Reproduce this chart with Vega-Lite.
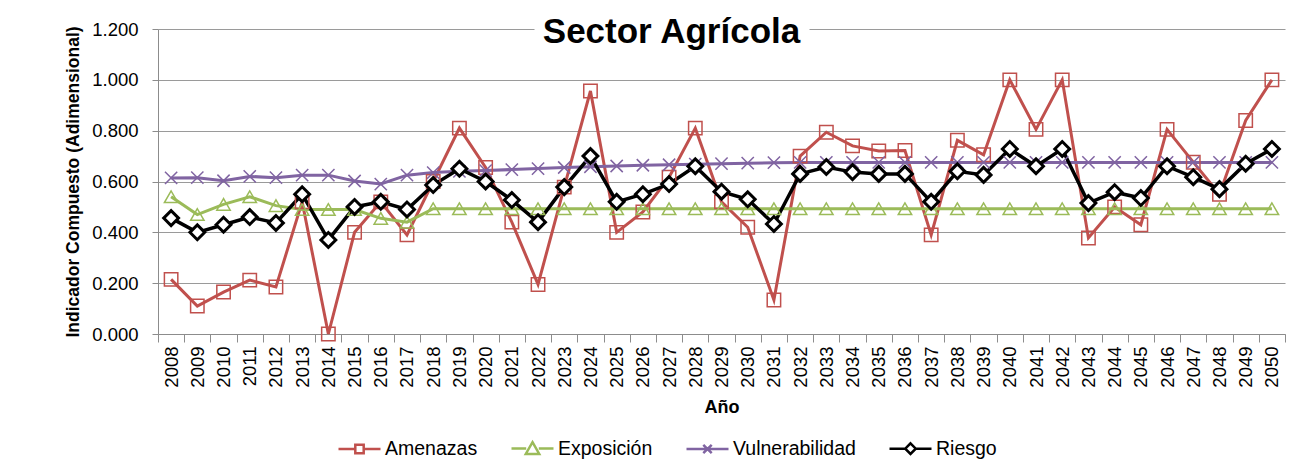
{
  "$schema": "https://vega.github.io/schema/vega-lite/v6.json",
  "width": 1127,
  "height": 305,
  "padding": {"left": 64, "top": 15, "right": 10, "bottom": 10},
  "background": "white",
  "title": {
    "text": "Sector Agrícola",
    "font": "Liberation Sans",
    "fontSize": 35,
    "fontWeight": "bold",
    "color": "black",
    "anchor": "middle",
    "frame": "group",
    "offset": -45,
    "baseline": "alphabetic",
    "dy": 13,
    "dx": -50
  },
  "data": {
    "values": [
      {"anio": 2008, "serie": "Amenazas", "valor": 0.215},
      {"anio": 2009, "serie": "Amenazas", "valor": 0.11},
      {"anio": 2010, "serie": "Amenazas", "valor": 0.165},
      {"anio": 2011, "serie": "Amenazas", "valor": 0.212},
      {"anio": 2012, "serie": "Amenazas", "valor": 0.185},
      {"anio": 2013, "serie": "Amenazas", "valor": 0.52},
      {"anio": 2014, "serie": "Amenazas", "valor": 0.0},
      {"anio": 2015, "serie": "Amenazas", "valor": 0.4},
      {"anio": 2016, "serie": "Amenazas", "valor": 0.52},
      {"anio": 2017, "serie": "Amenazas", "valor": 0.39},
      {"anio": 2018, "serie": "Amenazas", "valor": 0.6},
      {"anio": 2019, "serie": "Amenazas", "valor": 0.81},
      {"anio": 2020, "serie": "Amenazas", "valor": 0.655},
      {"anio": 2021, "serie": "Amenazas", "valor": 0.44},
      {"anio": 2022, "serie": "Amenazas", "valor": 0.195},
      {"anio": 2023, "serie": "Amenazas", "valor": 0.578},
      {"anio": 2024, "serie": "Amenazas", "valor": 0.956},
      {"anio": 2025, "serie": "Amenazas", "valor": 0.4},
      {"anio": 2026, "serie": "Amenazas", "valor": 0.48},
      {"anio": 2027, "serie": "Amenazas", "valor": 0.617},
      {"anio": 2028, "serie": "Amenazas", "valor": 0.81},
      {"anio": 2029, "serie": "Amenazas", "valor": 0.52},
      {"anio": 2030, "serie": "Amenazas", "valor": 0.42},
      {"anio": 2031, "serie": "Amenazas", "valor": 0.134},
      {"anio": 2032, "serie": "Amenazas", "valor": 0.7},
      {"anio": 2033, "serie": "Amenazas", "valor": 0.794},
      {"anio": 2034, "serie": "Amenazas", "valor": 0.74},
      {"anio": 2035, "serie": "Amenazas", "valor": 0.72},
      {"anio": 2036, "serie": "Amenazas", "valor": 0.722},
      {"anio": 2037, "serie": "Amenazas", "valor": 0.39},
      {"anio": 2038, "serie": "Amenazas", "valor": 0.762},
      {"anio": 2039, "serie": "Amenazas", "valor": 0.705},
      {"anio": 2040, "serie": "Amenazas", "valor": 1.0},
      {"anio": 2041, "serie": "Amenazas", "valor": 0.805},
      {"anio": 2042, "serie": "Amenazas", "valor": 1.0},
      {"anio": 2043, "serie": "Amenazas", "valor": 0.378},
      {"anio": 2044, "serie": "Amenazas", "valor": 0.5},
      {"anio": 2045, "serie": "Amenazas", "valor": 0.43},
      {"anio": 2046, "serie": "Amenazas", "valor": 0.805},
      {"anio": 2047, "serie": "Amenazas", "valor": 0.676},
      {"anio": 2048, "serie": "Amenazas", "valor": 0.55},
      {"anio": 2049, "serie": "Amenazas", "valor": 0.84},
      {"anio": 2050, "serie": "Amenazas", "valor": 1.0},
      {"anio": 2008, "serie": "Exposición", "valor": 0.54},
      {"anio": 2009, "serie": "Exposición", "valor": 0.47},
      {"anio": 2010, "serie": "Exposición", "valor": 0.51},
      {"anio": 2011, "serie": "Exposición", "valor": 0.54},
      {"anio": 2012, "serie": "Exposición", "valor": 0.505},
      {"anio": 2013, "serie": "Exposición", "valor": 0.49},
      {"anio": 2014, "serie": "Exposición", "valor": 0.49},
      {"anio": 2015, "serie": "Exposición", "valor": 0.49},
      {"anio": 2016, "serie": "Exposición", "valor": 0.455},
      {"anio": 2017, "serie": "Exposición", "valor": 0.44},
      {"anio": 2018, "serie": "Exposición", "valor": 0.493},
      {"anio": 2019, "serie": "Exposición", "valor": 0.493},
      {"anio": 2020, "serie": "Exposición", "valor": 0.493},
      {"anio": 2021, "serie": "Exposición", "valor": 0.493},
      {"anio": 2022, "serie": "Exposición", "valor": 0.493},
      {"anio": 2023, "serie": "Exposición", "valor": 0.493},
      {"anio": 2024, "serie": "Exposición", "valor": 0.493},
      {"anio": 2025, "serie": "Exposición", "valor": 0.493},
      {"anio": 2026, "serie": "Exposición", "valor": 0.493},
      {"anio": 2027, "serie": "Exposición", "valor": 0.493},
      {"anio": 2028, "serie": "Exposición", "valor": 0.493},
      {"anio": 2029, "serie": "Exposición", "valor": 0.493},
      {"anio": 2030, "serie": "Exposición", "valor": 0.493},
      {"anio": 2031, "serie": "Exposición", "valor": 0.493},
      {"anio": 2032, "serie": "Exposición", "valor": 0.493},
      {"anio": 2033, "serie": "Exposición", "valor": 0.493},
      {"anio": 2034, "serie": "Exposición", "valor": 0.493},
      {"anio": 2035, "serie": "Exposición", "valor": 0.493},
      {"anio": 2036, "serie": "Exposición", "valor": 0.493},
      {"anio": 2037, "serie": "Exposición", "valor": 0.493},
      {"anio": 2038, "serie": "Exposición", "valor": 0.493},
      {"anio": 2039, "serie": "Exposición", "valor": 0.493},
      {"anio": 2040, "serie": "Exposición", "valor": 0.493},
      {"anio": 2041, "serie": "Exposición", "valor": 0.493},
      {"anio": 2042, "serie": "Exposición", "valor": 0.493},
      {"anio": 2043, "serie": "Exposición", "valor": 0.493},
      {"anio": 2044, "serie": "Exposición", "valor": 0.493},
      {"anio": 2045, "serie": "Exposición", "valor": 0.493},
      {"anio": 2046, "serie": "Exposición", "valor": 0.493},
      {"anio": 2047, "serie": "Exposición", "valor": 0.493},
      {"anio": 2048, "serie": "Exposición", "valor": 0.493},
      {"anio": 2049, "serie": "Exposición", "valor": 0.493},
      {"anio": 2050, "serie": "Exposición", "valor": 0.493},
      {"anio": 2008, "serie": "Vulnerabilidad", "valor": 0.614},
      {"anio": 2009, "serie": "Vulnerabilidad", "valor": 0.615},
      {"anio": 2010, "serie": "Vulnerabilidad", "valor": 0.603},
      {"anio": 2011, "serie": "Vulnerabilidad", "valor": 0.62},
      {"anio": 2012, "serie": "Vulnerabilidad", "valor": 0.615},
      {"anio": 2013, "serie": "Vulnerabilidad", "valor": 0.625},
      {"anio": 2014, "serie": "Vulnerabilidad", "valor": 0.625},
      {"anio": 2015, "serie": "Vulnerabilidad", "valor": 0.602},
      {"anio": 2016, "serie": "Vulnerabilidad", "valor": 0.59},
      {"anio": 2017, "serie": "Vulnerabilidad", "valor": 0.625},
      {"anio": 2018, "serie": "Vulnerabilidad", "valor": 0.635},
      {"anio": 2019, "serie": "Vulnerabilidad", "valor": 0.64},
      {"anio": 2020, "serie": "Vulnerabilidad", "valor": 0.643},
      {"anio": 2021, "serie": "Vulnerabilidad", "valor": 0.647},
      {"anio": 2022, "serie": "Vulnerabilidad", "valor": 0.651},
      {"anio": 2023, "serie": "Vulnerabilidad", "valor": 0.655},
      {"anio": 2024, "serie": "Vulnerabilidad", "valor": 0.658},
      {"anio": 2025, "serie": "Vulnerabilidad", "valor": 0.661},
      {"anio": 2026, "serie": "Vulnerabilidad", "valor": 0.664},
      {"anio": 2027, "serie": "Vulnerabilidad", "valor": 0.666},
      {"anio": 2028, "serie": "Vulnerabilidad", "valor": 0.668},
      {"anio": 2029, "serie": "Vulnerabilidad", "valor": 0.67},
      {"anio": 2030, "serie": "Vulnerabilidad", "valor": 0.672},
      {"anio": 2031, "serie": "Vulnerabilidad", "valor": 0.674},
      {"anio": 2032, "serie": "Vulnerabilidad", "valor": 0.675},
      {"anio": 2033, "serie": "Vulnerabilidad", "valor": 0.675},
      {"anio": 2034, "serie": "Vulnerabilidad", "valor": 0.675},
      {"anio": 2035, "serie": "Vulnerabilidad", "valor": 0.675},
      {"anio": 2036, "serie": "Vulnerabilidad", "valor": 0.675},
      {"anio": 2037, "serie": "Vulnerabilidad", "valor": 0.675},
      {"anio": 2038, "serie": "Vulnerabilidad", "valor": 0.675},
      {"anio": 2039, "serie": "Vulnerabilidad", "valor": 0.675},
      {"anio": 2040, "serie": "Vulnerabilidad", "valor": 0.675},
      {"anio": 2041, "serie": "Vulnerabilidad", "valor": 0.675},
      {"anio": 2042, "serie": "Vulnerabilidad", "valor": 0.675},
      {"anio": 2043, "serie": "Vulnerabilidad", "valor": 0.675},
      {"anio": 2044, "serie": "Vulnerabilidad", "valor": 0.675},
      {"anio": 2045, "serie": "Vulnerabilidad", "valor": 0.675},
      {"anio": 2046, "serie": "Vulnerabilidad", "valor": 0.675},
      {"anio": 2047, "serie": "Vulnerabilidad", "valor": 0.675},
      {"anio": 2048, "serie": "Vulnerabilidad", "valor": 0.675},
      {"anio": 2049, "serie": "Vulnerabilidad", "valor": 0.675},
      {"anio": 2050, "serie": "Vulnerabilidad", "valor": 0.675},
      {"anio": 2008, "serie": "Riesgo", "valor": 0.456},
      {"anio": 2009, "serie": "Riesgo", "valor": 0.4},
      {"anio": 2010, "serie": "Riesgo", "valor": 0.43},
      {"anio": 2011, "serie": "Riesgo", "valor": 0.46},
      {"anio": 2012, "serie": "Riesgo", "valor": 0.437},
      {"anio": 2013, "serie": "Riesgo", "valor": 0.55},
      {"anio": 2014, "serie": "Riesgo", "valor": 0.37},
      {"anio": 2015, "serie": "Riesgo", "valor": 0.5},
      {"anio": 2016, "serie": "Riesgo", "valor": 0.52},
      {"anio": 2017, "serie": "Riesgo", "valor": 0.49},
      {"anio": 2018, "serie": "Riesgo", "valor": 0.586},
      {"anio": 2019, "serie": "Riesgo", "valor": 0.65},
      {"anio": 2020, "serie": "Riesgo", "valor": 0.6},
      {"anio": 2021, "serie": "Riesgo", "valor": 0.527},
      {"anio": 2022, "serie": "Riesgo", "valor": 0.44},
      {"anio": 2023, "serie": "Riesgo", "valor": 0.578},
      {"anio": 2024, "serie": "Riesgo", "valor": 0.7},
      {"anio": 2025, "serie": "Riesgo", "valor": 0.52},
      {"anio": 2026, "serie": "Riesgo", "valor": 0.55},
      {"anio": 2027, "serie": "Riesgo", "valor": 0.59},
      {"anio": 2028, "serie": "Riesgo", "valor": 0.66},
      {"anio": 2029, "serie": "Riesgo", "valor": 0.56},
      {"anio": 2030, "serie": "Riesgo", "valor": 0.53},
      {"anio": 2031, "serie": "Riesgo", "valor": 0.433},
      {"anio": 2032, "serie": "Riesgo", "valor": 0.63},
      {"anio": 2033, "serie": "Riesgo", "valor": 0.657},
      {"anio": 2034, "serie": "Riesgo", "valor": 0.637},
      {"anio": 2035, "serie": "Riesgo", "valor": 0.63},
      {"anio": 2036, "serie": "Riesgo", "valor": 0.63},
      {"anio": 2037, "serie": "Riesgo", "valor": 0.52},
      {"anio": 2038, "serie": "Riesgo", "valor": 0.64},
      {"anio": 2039, "serie": "Riesgo", "valor": 0.626},
      {"anio": 2040, "serie": "Riesgo", "valor": 0.728},
      {"anio": 2041, "serie": "Riesgo", "valor": 0.66},
      {"anio": 2042, "serie": "Riesgo", "valor": 0.728},
      {"anio": 2043, "serie": "Riesgo", "valor": 0.515},
      {"anio": 2044, "serie": "Riesgo", "valor": 0.558},
      {"anio": 2045, "serie": "Riesgo", "valor": 0.535},
      {"anio": 2046, "serie": "Riesgo", "valor": 0.66},
      {"anio": 2047, "serie": "Riesgo", "valor": 0.617},
      {"anio": 2048, "serie": "Riesgo", "valor": 0.57},
      {"anio": 2049, "serie": "Riesgo", "valor": 0.67},
      {"anio": 2050, "serie": "Riesgo", "valor": 0.728}
    ]
  },
  "encoding": {
    "x": {
      "field": "anio",
      "type": "ordinal",
      "scale": {"type": "band", "paddingInner": 0, "paddingOuter": 0},
      "axis": {
        "title": "Año",
        "labelAngle": -90,
        "tickBand": "extent",
        "tickSize": 8,
        "labelPadding": 4,
        "labelFontSize": 18.5,
        "titleFontSize": 18,
        "titleFontWeight": "bold",
        "titlePadding": 11,
        "grid": false,
        "domainColor": "#8c8c8c",
        "tickColor": "#8c8c8c",
        "labelColor": "black",
        "titleColor": "black"
      }
    },
    "y": {
      "field": "valor",
      "type": "quantitative",
      "scale": {"domain": [0, 1.2], "nice": false},
      "axis": {
        "title": "Indicador Compuesto (Adimensional)",
        "values": [0, 0.2, 0.4, 0.6, 0.8, 1, 1.2],
        "format": ".3f",
        "labelFontSize": 18.5,
        "labelPadding": 14,
        "tickSize": 6,
        "tickColor": "#8c8c8c",
        "domainColor": "#8c8c8c",
        "gridColor": "#9a9a9a",
        "gridWidth": 1.2,
        "gridDash": {"condition": {"test": "datum.value === 1.2", "value": [376, 275, 800]}, "value": []},
        "titleFontSize": 17.5,
        "titleFontWeight": "bold",
        "titlePadding": 9,
        "labelColor": "black",
        "titleColor": "black"
      }
    },
    "color": {
      "field": "serie",
      "type": "nominal",
      "scale": {
        "domain": ["Amenazas", "Exposición", "Vulnerabilidad", "Riesgo"],
        "range": ["#C0504D", "#9BBB59", "#8064A2", "#000000"]
      },
      "legend": {
        "title": null,
        "orient": "none",
        "direction": "horizontal",
        "legendX": 179,
        "legendY": 397,
        "labelFontSize": 19.5,
        "labelColor": "black",
        "labelOffset": 3,
        "columnPadding": 28,
        "symbolSize": 1764,
        "symbolStrokeWidth": 2.5,
        "symbolFillColor": "white",
        "symbolOpacity": 1
      }
    }
  },
  "layer": [
    {
      "transform": [{"filter": "datum.serie !== 'Riesgo'"}],
      "mark": {"type": "line", "strokeWidth": 3}
    },
    {
      "transform": [{"filter": "datum.serie === 'Riesgo'"}],
      "mark": {"type": "line", "strokeWidth": 3.5}
    },
    {
      "transform": [{"filter": "datum.serie === 'Amenazas'"}],
      "mark": {"type": "point", "shape": "square", "filled": false, "opacity": 1, "size": 180, "strokeWidth": 1.5}
    },
    {
      "transform": [{"filter": "datum.serie === 'Exposición'"}],
      "mark": {"type": "point", "shape": "triangle-up", "filled": false, "opacity": 1, "size": 180, "strokeWidth": 1.5}
    },
    {
      "transform": [{"filter": "datum.serie === 'Vulnerabilidad'"}],
      "mark": {"type": "point", "shape": "M-1,-1L1,1M1,-1L-1,1", "filled": false, "opacity": 1, "size": 150, "strokeWidth": 1.5}
    },
    {
      "transform": [{"filter": "datum.serie === 'Riesgo'"}],
      "mark": {"type": "point", "shape": "diamond", "filled": false, "opacity": 1, "size": 220, "strokeWidth": 3},
      "encoding": {"fill": {"value": "white"}}
    },
    {
      "mark": {"type": "point", "filled": false, "opacity": 0},
      "encoding": {
        "shape": {
          "field": "serie",
          "type": "nominal",
          "scale": {
            "domain": ["Amenazas", "Exposición", "Vulnerabilidad", "Riesgo"],
            "range": [
              "M-1,0H-0.2M0.2,0H1M-0.2,-0.2H0.2V0.2H-0.2Z",
              "M-1,0H-0.3M0.3,0H1M0,-0.3L0.32,0.26H-0.32Z",
              "M-1,0H1M-0.2,-0.2L0.2,0.2M0.2,-0.2L-0.2,0.2",
              "M-1,0H-0.25M0.25,0H1M0,-0.25L0.25,0L0,0.25L-0.25,0Z"
            ]
          },
          "legend": null
        }
      }
    }
  ],
  "config": {
    "font": "Liberation Sans",
    "view": {"stroke": null}
  }
}
